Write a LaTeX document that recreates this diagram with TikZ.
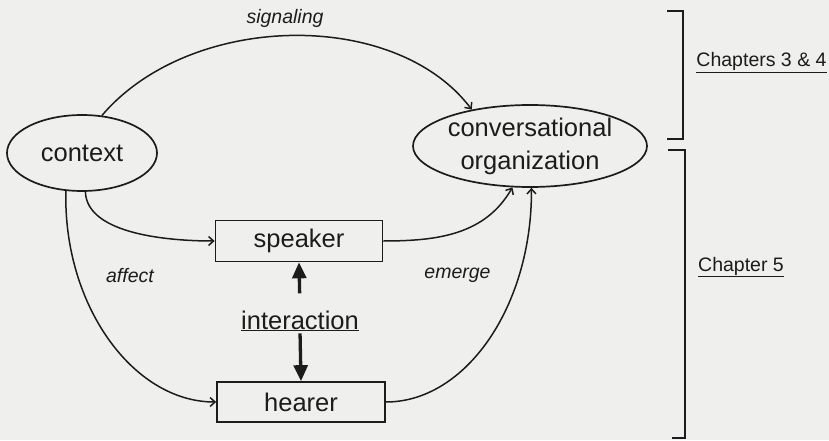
\documentclass[tikz,border=0pt]{standalone}
\usepackage{fontspec}
\setmainfont{Liberation Sans}
\usetikzlibrary{shapes.geometric,arrows.meta}
\definecolor{ink}{HTML}{1C1C1C}
\definecolor{paper}{HTML}{EFEFED}
\begin{document}
\begin{tikzpicture}[x=1pt,y=1pt,
  bigtext/.style={font=\fontsize{25.5}{33}\selectfont, text=ink},
  lab/.style={font=\fontsize{19.5}{23}\selectfont\itshape, text=ink, inner sep=0pt, anchor=base},
  chap/.style={font=\fontsize{19.5}{23}\selectfont, text=ink, inner sep=0pt, anchor=base},
  oval/.style={ellipse, draw=ink, line width=1.7pt, inner sep=0pt, bigtext},
  box/.style={rectangle, draw=ink, line width=1.7pt, inner sep=0pt, bigtext},
  conn/.style={draw=ink, line width=1.5pt, -{Straight Barb[length=5pt,width=9pt]}},
  bigarrow/.style={draw=ink, line width=3.3pt, -{Triangle[length=16pt,width=14pt]}},
  brk/.style={draw=ink, line width=1.8pt}]
\fill[paper] (0,0) rectangle (829,440);
\useasboundingbox (0,0) rectangle (829,440);

\node[oval, minimum width=150pt, minimum height=76pt] (ctx) at (82,287) {context};
\node[oval, minimum width=234pt, minimum height=82pt, align=center] (conv) at (530,294) {conversational\\organization};
\node[box, minimum width=167pt, minimum height=41pt] (spk) at (299,199) {speaker};
\node[box, minimum width=168pt, minimum height=40pt] (hear) at (301,38) {hearer};
\node[bigtext, inner sep=0pt, anchor=base] (inter) at (300,111) {\underline{interaction}};

\draw[bigarrow, shorten <=17pt] (inter.north) -- (spk.south);
\draw[bigarrow, shorten <=2pt] (inter.south) -- (hear.north);

\draw[conn] (ctx.62) .. controls (190,428) and (395,432) .. (conv.148);
\draw[conn] (ctx.-85) to[out=-88,in=180,looseness=0.8] (spk.west);
\draw[conn] (ctx.-113) .. controls (63,135) and (133,38) .. (hear.west);
\draw[conn] (spk.east) to[out=0,in=-120] (conv.-113);
\draw[conn] (hear.east) .. controls (466,38) and (532,134) .. (conv.-88);

\draw[brk] (667,429) -- (683,429) -- (683,301) -- (667,301);
\draw[brk] (668,290) -- (685,290) -- (685,2) -- (672,2);

\node[lab] (sig) at (285,416.7) {signaling};
\node[lab] (aff) at (130,158) {affect};
\node[lab] (emg) at (457.5,162) {emerge};
\node[chap] (ch34) at (761.5,373) {\underline{Chapters 3 \& 4}};
\node[chap] (ch5) at (741,169) {\underline{Chapter 5}};
\end{tikzpicture}
\end{document}
